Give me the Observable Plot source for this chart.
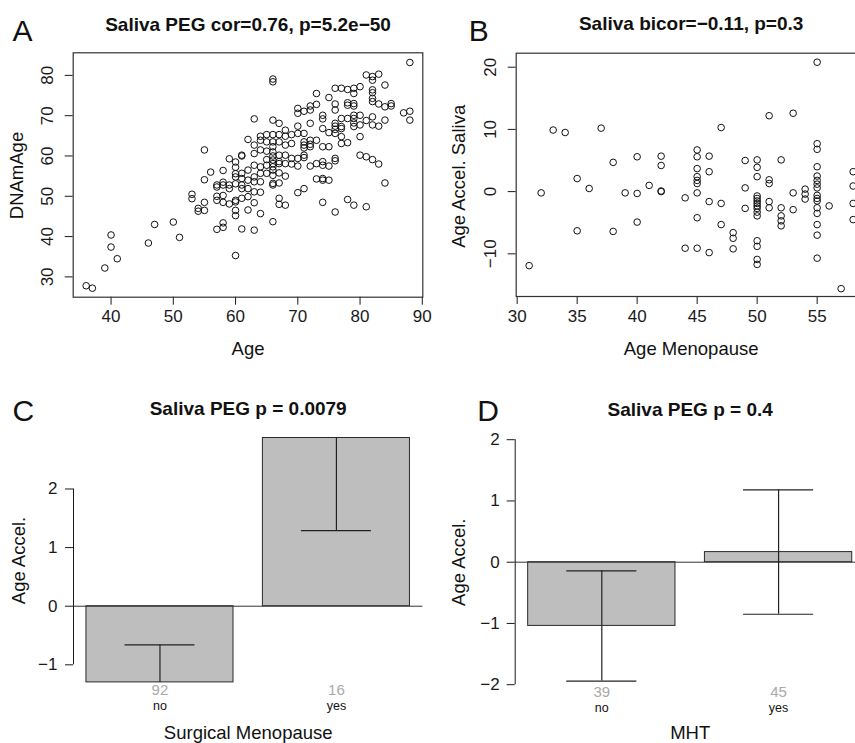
<!DOCTYPE html>
<html>
<head>
<meta charset="utf-8">
<script src="https://cdn.jsdelivr.net/npm/d3@7"></script>
<script src="https://cdn.jsdelivr.net/npm/@observablehq/plot@0.6"></script>
<style>
html, body { margin: 0; padding: 0; background: #fff; }
#fig { position: relative; width: 855px; height: 743px; overflow: hidden; background: #fff; }
.panel { position: absolute; }
</style>
</head>
<body>
<div id="fig"></div>
<script>
// ---------- Panel A: Age vs DNAmAge (saliva PEG) ----------
const ageA = [36,37,39,40,41,46,47,50,51,53,54,55,56,57,58,59,60,61,62,63,64,65,66,67,68,69,70,71,72,73,74,75,76,77,78,79,80,81,82,83,84,85,87,88];
const dnamAgeA = [
  [27.8],[27.2],[32.2],[40.4,37.4],[34.5],[38.4],[43.0],[43.6],[39.8],[50.5,49.4],[47.0,46.3],[61.5,54.1,48.5,46.5],[56.0],
  [52.8,52.3,50.0,49.0,41.8],
  [56.4,53.5,52.8,50.2,48.5,43.4,42.3],
  [59.3,52.8,51.9,48.1],
  [58.5,57.2,55.6,54.8,53.1,49.0,48.6,46.5,45.2,35.3],
  [60.2,60.0,55.7,54.4,52.8,51.9,49.5,41.9],
  [64.1,56.5,54.0,51.9,49.9,46.6],
  [69.2,62.7,60.6,57.7,54.8,53.6,51.1,48.4,41.6],
  [64.9,63.9,61.5,57.3,55.7,53.6,51.0,45.7],
  [65.3,63.5,61.2,59.1,57.7,55.7],
  [79.1,78.4,68.9,65.3,63.5,62.3,61.0,60.0,59.0,58.1,57.3,56.5,55.2,53.2,52.8,43.7],
  [68.1,65.3,63.5,60.2,58.6,58.1,55.8,53.3,49.5,48.0],
  [66.4,64.9,62.7,60.2,58.1,55.0,47.8],
  [65.3,63.1,59.4,58.0],
  [71.8,70.6,67.4,65.6,59.4,57.5,50.9],
  [71.1,65.6,63.5,62.7,62.0,60.2,59.6,51.9],
  [72.4,71.4,68.1,63.9,62.9,62.3,57.5],
  [75.5,72.8,63.9,58.1,54.3],
  [70.1,69.2,66.8,62.3,58.6,57.7,54.4,54.0,48.5],
  [74.5,65.8,62.3,57.5,54.0],
  [76.8,72.9,71.4,68.1,67.4,66.6,65.6,59.4,58.8,46.1],
  [76.8,69.3,67.3,66.8,64.8,63.1],
  [76.5,73.2,72.6,69.3,63.3,49.2],
  [76.8,75.5,73.0,72.4,70.1,69.3,68.2,67.3,47.8],
  [77.2,70.1,67.7,64.8,60.2],
  [80.1,68.8,59.8,47.4],
  [79.7,78.8,76.4,75.7,74.3,73.5,69.7,67.7,59.1],
  [80.3,72.9,67.4,58.0],
  [77.6,72.2,68.9,53.3],
  [73.0,72.4],
  [70.7],
  [83.2,71.1,68.9]
];
const xTicksA = [40,50,60,70,80,90];
const yTicksA = [30,40,50,60,70,80];

// ---------- Panel B: Age at menopause vs age acceleration ----------
const ageMenoB = [31,32,33,34,35,36,37,38,39,40,41,42,44,45,46,47,48,49,50,51,52,53,54,55,56,57,58];
const accelB = [
  [-11.9],[-0.2],[9.9],[9.5],[2.1,-6.3],[0.5],[10.2],[4.7,-6.4],[-0.2],[5.6,-0.3,-4.9],[1.0],[5.7,4.2,0.1,0.0],
  [-1.0,-9.1],
  [6.7,5.6,3.7,2.4,1.8,1.3,-0.2,-4.2,-9.1],
  [5.7,3.2,-1.6,-9.8],
  [10.3,-1.9,-5.3],
  [-6.6,-7.5,-9.2],
  [5.0,0.6,-2.7],
  [5.1,3.9,2.4,-0.7,-1.1,-1.5,-1.9,-2.3,-2.7,-3.3,-3.9,-7.9,-8.8,-10.9,-11.7],
  [12.2,1.9,1.3,-1.6,-2.6],
  [5.1,-2.6,-3.9,-4.7,-5.5],
  [12.6,-0.2,-2.9],
  [0.4,-0.4,-1.2],
  [20.8,7.7,6.8,4.0,2.5,1.8,1.2,0.6,-0.6,-1.1,-1.5,-2.6,-3.5,-5.3,-7.0,-10.7],
  [-2.3],
  [-15.6],
  [3.2,0.9,-1.9,-4.5]
];
const xTicksB = [30,35,40,45,50,55];
const yTicksB = [-10,0,10,20];

// ---------- Panel C: Surgical menopause ----------
const catsC = ["no","yes"];
const countsC = [92,16];
const meansC = [-1.30, 2.87];
const seC = [0.64, 1.58];
const yTicksC = [-1,0,1,2];

// ---------- Panel D: MHT ----------
const catsD = ["no","yes"];
const countsD = [39,45];
const meansD = [-1.04, 0.165];
const seD = [0.90, 1.015];
const yTicksD = [-2,-1,0,1,2];

// ---------- helpers ----------
const FONT = '"Liberation Sans", Arial, Helvetica, sans-serif';
const fmt = d => (d < 0 ? "\u2212" + Math.abs(d) : String(d));
const fig = document.getElementById("fig");
function place(svg, left, top) {
  const div = document.createElement("div");
  div.className = "panel";
  div.style.left = left + "px";
  div.style.top = top + "px";
  div.appendChild(svg);
  fig.appendChild(div);
}
function flatten(xs, ys) {
  return xs.flatMap((x, i) => ys[i].map(y => ({x, y})));
}

function scatter(o) {
  const {pts, width, height, m, xDomain, yDomain, xTicks, yTicks, title, titleBase,
         letter, letterLeft, letterBase, xLabel, xLabelBase, yLabel, yLabelBase, yLabelMid, left} = o;
  const frameTop = m.top, frameBottom = height - m.bottom, frameMid = (frameTop + frameBottom) / 2;
  return Plot.plot({
    width, height,
    marginLeft: m.left, marginRight: m.right, marginTop: m.top, marginBottom: m.bottom,
    style: {fontFamily: FONT, background: "transparent", maxWidth: "none", overflow: "visible", color: "#1a1a1a"},
    x: {domain: xDomain, axis: null},
    y: {domain: yDomain, axis: null},
    marks: [
      Plot.axisX(xTicks, {anchor: "bottom", tickSize: 8, tickPadding: 5, fontSize: 17, tickFormat: fmt, label: null}),
      Plot.axisY(yTicks, {anchor: "left", tickSize: 8, tickPadding: 12, tickRotate: -90, fontSize: 17, tickFormat: fmt, label: null}),
      Plot.dot(pts, {x: "x", y: "y", r: 3.3, stroke: "#111", strokeWidth: 1, fill: "none"}),
      Plot.frame({stroke: "#333", strokeWidth: 1.2}),
      Plot.text([title], {text: d => d, frameAnchor: "top", lineAnchor: "bottom", dy: titleBase - frameTop, fontWeight: "bold", fontSize: 19, fill: "#111"}),
      Plot.text([letter], {text: d => d, frameAnchor: "top-left", textAnchor: "start", lineAnchor: "bottom", dx: letterLeft - (left + m.left), dy: letterBase - frameTop, fontSize: 30, fill: "#111"}),
      Plot.text([xLabel], {text: d => d, frameAnchor: "bottom", lineAnchor: "bottom", dy: xLabelBase - frameBottom, fontSize: 18.5, fill: "#111"}),
      Plot.text([yLabel], {text: d => d, frameAnchor: "left", rotate: -90, textAnchor: "middle", lineAnchor: "bottom", dx: yLabelBase - (left + m.left), dy: yLabelMid - frameMid, fontSize: 18.5, fill: "#111"})
    ]
  });
}

function bars(o) {
  const {cats, counts, means, ses, yTicks, width, height, m, yDomain, top, left, title, titleBase,
         letter, letterLeft, letterBase, xLabel, xLabelBase, yLabel, yLabelBase, yLabelMid, tickPad} = o;
  // R barplot geometry: width 1, space 0.2, 4% expansion
  const rows = cats.map((c, i) => ({name: c, n: counts[i], mean: means[i], se: ses[i],
    x1: 0.2 + 1.2 * i, x2: 1.2 + 1.2 * i, xc: 0.7 + 1.2 * i}));
  const span = 1.2 * cats.length - 0.2;
  const xDomain = [0.2 - 0.04 * span, 0.2 + span + 0.04 * span];
  const cap = 0.238;
  const frameTop = m.top, frameBottom = height - m.bottom, frameMid = (frameTop + frameBottom) / 2;
  return Plot.plot({
    width, height,
    marginLeft: m.left, marginRight: m.right, marginTop: m.top, marginBottom: m.bottom,
    style: {fontFamily: FONT, background: "transparent", maxWidth: "none", overflow: "visible", color: "#1a1a1a"},
    x: {domain: xDomain, axis: null},
    y: {domain: yDomain, axis: null},
    marks: [
      Plot.rectY(rows, {x1: "x1", x2: "x2", y1: 0, y2: "mean", fill: "#bebebe", stroke: "#2a2a2a", strokeWidth: 1}),
      Plot.ruleY([0], {stroke: "#333", strokeWidth: 1}),
      Plot.ruleX(rows, {x: "xc", y1: d => d.mean - d.se, y2: d => d.mean + d.se, stroke: "#222", strokeWidth: 1.2, clip: true}),
      Plot.ruleY(rows, {y: d => d.mean - d.se, x1: d => d.xc - cap, x2: d => d.xc + cap, stroke: "#222", strokeWidth: 1.2, clip: true}),
      Plot.ruleY(rows, {y: d => d.mean + d.se, x1: d => d.xc - cap, x2: d => d.xc + cap, stroke: "#222", strokeWidth: 1.2, clip: true}),
      Plot.ruleX([xDomain[0]], {y1: yTicks[0], y2: yTicks[yTicks.length - 1], stroke: "#1a1a1a", strokeWidth: 1}),
      Plot.axisY(yTicks, {anchor: "left", tickSize: 8, tickPadding: tickPad, fontSize: 17, tickFormat: fmt, label: null}),
      Plot.text(rows, {x: "xc", text: d => String(d.n), frameAnchor: "bottom", lineAnchor: "bottom", dy: 12.3, fontSize: 15, fill: "#a9a9a9"}),
      Plot.text(rows, {x: "xc", text: "name", frameAnchor: "bottom", lineAnchor: "bottom", dy: 27.5, fontSize: 12.5, fill: "#111"}),
      Plot.text([title], {text: d => d, frameAnchor: "top", lineAnchor: "bottom", dy: titleBase - (top + frameTop), fontWeight: "bold", fontSize: 19, fill: "#111"}),
      Plot.text([letter], {text: d => d, frameAnchor: "top-left", textAnchor: "start", lineAnchor: "bottom", dx: letterLeft - (left + m.left), dy: letterBase - (top + frameTop), fontSize: 30, fill: "#111"}),
      Plot.text([xLabel], {text: d => d, frameAnchor: "bottom", lineAnchor: "bottom", dy: xLabelBase - (top + frameBottom), fontSize: 18.5, fill: "#111"}),
      Plot.text([yLabel], {text: d => d, frameAnchor: "left", rotate: -90, textAnchor: "middle", lineAnchor: "bottom", dx: yLabelBase - (left + m.left), dy: yLabelMid - (top + frameMid), fontSize: 18.5, fill: "#111"})
    ]
  });
}

// Panel A
place(scatter({
  pts: flatten(ageA, dnamAgeA), left: 0, width: 430, height: 365,
  m: {left: 72.7, right: 7.7, top: 52.3, bottom: 68.3},
  xDomain: [33.92, 90.08], yDomain: [24.96, 85.6], xTicks: xTicksA, yTicks: yTicksA,
  title: "Saliva PEG cor=0.76, p=5.2e\u221250", titleBase: 30,
  letter: "A", letterLeft: 12, letterBase: 40,
  xLabel: "Age", xLabelBase: 354, yLabel: "DNAmAge", yLabelBase: 22.5, yLabelMid: 175
}), 0, 0);

// Panel B (right part cropped by the figure edge, as in the original)
place(scatter({
  pts: flatten(ageMenoB, accelB), left: 425, width: 449, height: 365,
  m: {left: 90.7, right: 8.4, top: 52.7, bottom: 69},
  xDomain: [29.92, 59.08], yDomain: [-16.86, 22.25], xTicks: xTicksB, yTicks: yTicksB,
  title: "Saliva bicor=\u22120.11, p=0.3", titleBase: 29.5,
  letter: "B", letterLeft: 468.3, letterBase: 40,
  xLabel: "Age Menopause", xLabelBase: 354.5, yLabel: "Age Accel. Saliva", yLabelBase: 464.5, yLabelMid: 175.8
}), 425, 0);

// Panel C
place(bars({
  cats: catsC, counts: countsC, means: meansC, ses: seC, yTicks: yTicksC,
  left: 0, top: 365, width: 430, height: 378,
  m: {left: 73, right: 7.6, top: 72.5, bottom: 61.1},
  yDomain: [meansC[0], meansC[1]], tickPad: 8,
  title: "Saliva PEG p = 0.0079", titleBase: 414,
  letter: "C", letterLeft: 12, letterBase: 420,
  xLabel: "Surgical Menopause", xLabelBase: 738.5, yLabel: "Age Accel.", yLabelBase: 24.5, yLabelMid: 560
}), 0, 365);

// Panel D (right part cropped by the figure edge)
place(bars({
  cats: catsD, counts: countsD, means: meansD, ses: seD, yTicks: yTicksD,
  left: 425, top: 365, width: 445, height: 378,
  m: {left: 89.7, right: 5.3, top: 74.2, bottom: 58.8},
  yDomain: [-2, 2], tickPad: 7.5,
  title: "Saliva PEG p = 0.4", titleBase: 415.5,
  letter: "D", letterLeft: 476.7, letterBase: 420.7,
  xLabel: "MHT", xLabelBase: 738.5, yLabel: "Age Accel.", yLabelBase: 464.5, yLabelMid: 561.7
}), 425, 365);
</script>
</body>
</html>
